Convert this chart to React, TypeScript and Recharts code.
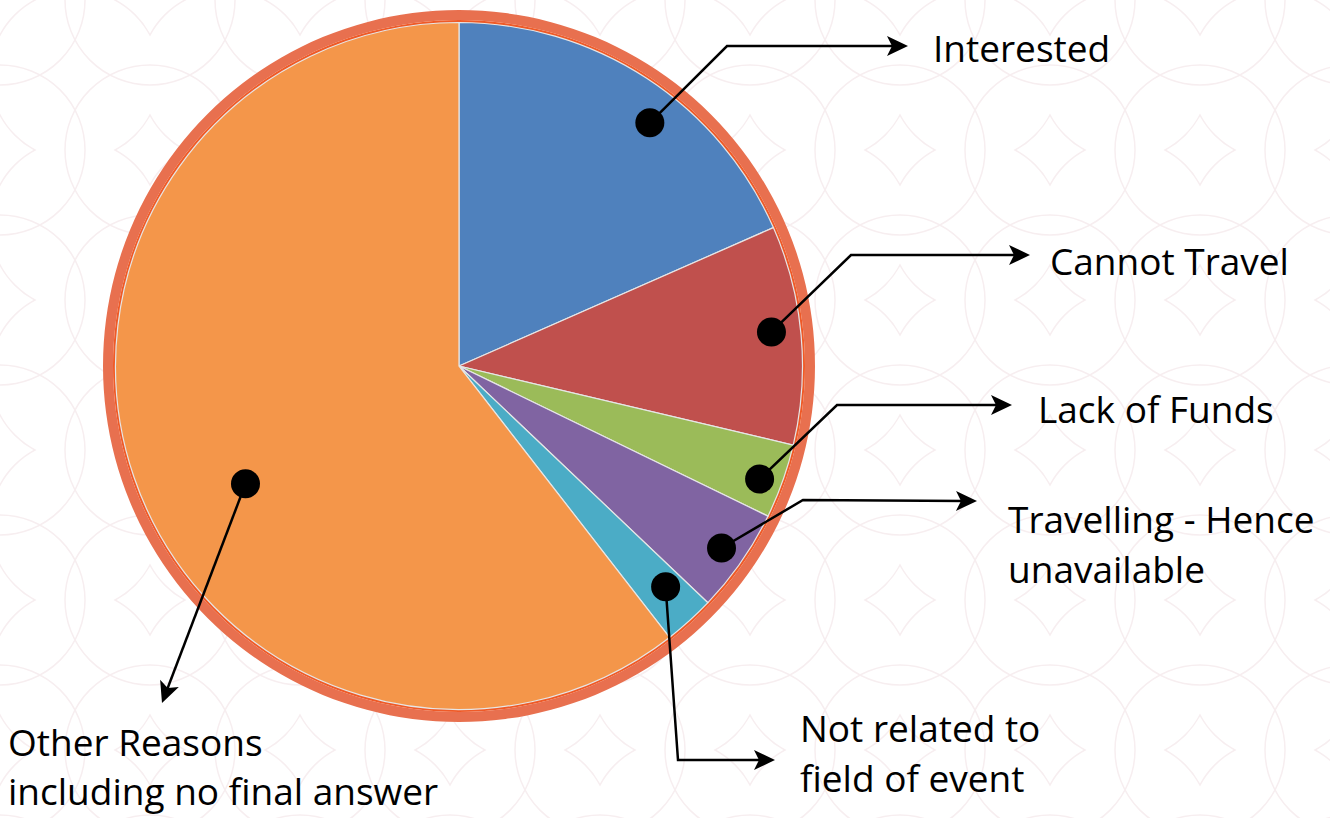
import React from 'react'
import { PieChart, Pie, Cell } from 'recharts'

// survey answers, share of respondents (%), clockwise from 12 o'clock
const categories = [
  'Interested',
  'Cannot Travel',
  'Lack of Funds',
  'Travelling - Hence unavailable',
  'Not related to field of event',
  'Other Reasons including no final answer',
]
const shares = [18.4, 10.3, 3.5, 4.9, 2.4, 60.5]
const labelLines = [
  ['Interested'],
  ['Cannot Travel'],
  ['Lack of Funds'],
  ['Travelling - Hence', 'unavailable'],
  ['Not related to', 'field of event'],
  ['Other Reasons', 'including no final answer'],
]
const colors = ['#4F81BD', '#C0504D', '#9BBB59', '#8064A2', '#4BACC6', '#F4964A']

const data = categories.map((name, i) => ({ name, value: shares[i] }))

// callout layout: dot radius fraction, angle nudge (deg clockwise), leader path, text anchor
const callouts = [
  { r: 0.9, turn: 5, path: [[727, 46], [908, 46]], text: [933, 62], lh: 0 },
  { r: 0.915, turn: -1, path: [[851, 255], [1030, 255]], text: [1050, 275], lh: 0 },
  { r: 0.935, turn: 1, path: [[837, 405], [1012, 405]], text: [1038, 423], lh: 0 },
  { r: 0.93, turn: 0, path: [[803, 500], [977, 501]], text: [1008, 533], lh: 50 },
  { r: 0.88, turn: -1, path: [[678, 760], [775, 760]], text: [800, 742], lh: 50 },
  { r: 0.71, turn: -10, path: [[162, 703]], text: [8, 756], lh: 49 },
]

const FONT = '"Open Sans", sans-serif'

function arrowHead(from: number[], to: number[]) {
  const dx = to[0] - from[0]
  const dy = to[1] - from[1]
  const len = Math.hypot(dx, dy)
  const ux = dx / len
  const uy = dy / len
  const px = -uy
  const py = ux
  const L = 21
  const W = 10
  const N = 5
  const bx = to[0] - ux * L
  const by = to[1] - uy * L
  const pts = [
    [to[0], to[1]],
    [bx + px * W, by + py * W],
    [bx + ux * N, by + uy * N],
    [bx - px * W, by - py * W],
  ]
  return pts.map((p) => p.join(',')).join(' ')
}

const renderCallout = (props: any) => {
  const { cx, cy, midAngle, outerRadius, index } = props
  const c = callouts[index]
  const a = ((90 - midAngle + c.turn) * Math.PI) / 180
  const R = outerRadius * c.r
  const dot = [cx + R * Math.sin(a), cy - R * Math.cos(a)]
  const pts = [dot, ...c.path]
  const tip = pts[pts.length - 1]
  const prev = pts[pts.length - 2]
  // stop the shaft a little short so the arrow point stays sharp
  const d = Math.hypot(tip[0] - prev[0], tip[1] - prev[1])
  const shaftEnd = [tip[0] - ((tip[0] - prev[0]) / d) * 12, tip[1] - ((tip[1] - prev[1]) / d) * 12]
  const linePts = [...pts.slice(0, -1), shaftEnd]
  return (
    <g key={`callout-${index}`}>
      <polyline
        points={linePts.map((p) => p.join(',')).join(' ')}
        fill="none"
        stroke="#000"
        strokeWidth={2.5}
      />
      <polygon points={arrowHead(prev, tip)} fill="#000" />
      <circle cx={dot[0]} cy={dot[1]} r={14.5} fill="#000" />
      <text x={c.text[0]} y={c.text[1]} fontFamily={FONT} fontSize={37} fill="#000">
        {labelLines[index].map((line, k) => (
          <tspan key={k} x={c.text[0]} dy={k === 0 ? 0 : c.lh}>
            {line}
          </tspan>
        ))}
      </text>
    </g>
  )
}

function Backdrop() {
  const s = { fill: 'none', stroke: '#F7EEF0', strokeWidth: 1.5 }
  return (
    <svg width={1330} height={818} style={{ position: 'absolute', left: 0, top: 0 }}>
      <defs>
        <pattern id="lattice" width={150} height={150} patternUnits="userSpaceOnUse">
          <circle cx={0} cy={0} r={85} {...s} />
          <circle cx={150} cy={0} r={85} {...s} />
          <circle cx={0} cy={150} r={85} {...s} />
          <circle cx={150} cy={150} r={85} {...s} />
          <circle cx={75} cy={75} r={85} {...s} />
        </pattern>
      </defs>
      <rect width={1330} height={818} fill="#fff" />
      <rect width={1330} height={818} fill="url(#lattice)" />
    </svg>
  )
}

export default function App() {
  const ring = [{ name: 'ring', value: 1 }]
  return (
    <div style={{ position: 'fixed', left: 0, top: 0, width: 1330, height: 818, overflow: 'hidden' }}>
      <Backdrop />
      <div style={{ position: 'absolute', left: 0, top: 0 }}>
        <PieChart width={1330} height={818} margin={{ top: 0, right: 0, bottom: 0, left: 0 }}>
          <Pie
            data={ring}
            dataKey="value"
            cx={459}
            cy={366}
            innerRadius={346}
            outerRadius={356}
            startAngle={90}
            endAngle={-270}
            fill="#E8704F"
            stroke="none"
            isAnimationActive={false}
          />
          <Pie
            data={ring}
            dataKey="value"
            cx={459}
            cy={366}
            innerRadius={341}
            outerRadius={346}
            startAngle={90}
            endAngle={-270}
            fill="#EF5A27"
            stroke="none"
            isAnimationActive={false}
          />
          <Pie
            data={data}
            dataKey="value"
            nameKey="name"
            cx={459}
            cy={366}
            outerRadius={343.5}
            startAngle={90}
            endAngle={-270}
            stroke="#E6E6E6"
            strokeWidth={1.2}
            label={renderCallout}
            labelLine={false}
            isAnimationActive={false}
          >
            {data.map((d, i) => (
              <Cell key={d.name} fill={colors[i]} />
            ))}
          </Pie>
        </PieChart>
      </div>
    </div>
  )
}
